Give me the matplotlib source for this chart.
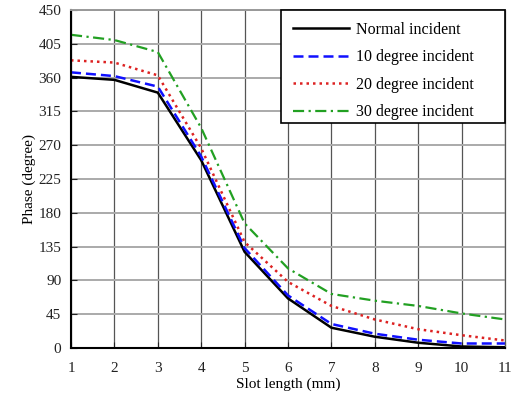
import matplotlib
matplotlib.use("Agg")
import matplotlib.pyplot as plt
from matplotlib.patches import Rectangle

slot_length = [1, 2, 3, 4, 5, 6, 7, 8, 9, 10, 11]
normal = [361, 357, 340, 250, 128, 66, 27, 15, 7, 2, 1]
deg10 = [367, 362, 348, 255, 133, 70, 32, 19, 11, 6, 6]
deg20 = [383, 380, 363, 266, 141, 88, 56, 38, 25, 17, 10]
deg30 = [417, 410, 394, 293, 166, 106, 72, 63, 56, 46, 38]
labels = ["Normal incident", "10 degree incident", "20 degree incident", "30 degree incident"]
yticks = [0, 45, 90, 135, 180, 225, 270, 315, 360, 405, 450]
xticks = [1, 2, 3, 4, 5, 6, 7, 8, 9, 10, 11]

plt.rcParams['font.family'] = ['Liberation Serif', 'DejaVu Serif']

fig = plt.figure(figsize=(5.11, 3.93), dpi=100)
ax = fig.add_axes([71/511, 45/393, 434/511, 338/393])

ax.plot(slot_length, normal, color='black', lw=1.8, ls='-', label=labels[0])
ax.plot(slot_length, deg10, color='#1010ff', lw=1.8, ls=(0, (4, 2)), label=labels[1])
ax.plot(slot_length, deg20, color='#dd2222', lw=1.8, ls=(0, (1, 1.6)), label=labels[2])
ax.plot(slot_length, deg30, color='#22a022', lw=1.6, ls=(0, (5, 2, 1, 2)), label=labels[3])

ax.set_xlim(1, 11)
ax.set_ylim(0, 450)
ax.set_xticks(xticks)
ax.set_yticks(yticks)
ax.tick_params(direction='in', length=4, labelsize=11, colors='#222222')
ax.tick_params(axis='y', pad=7)
ax.tick_params(axis='x', pad=10)
for x in xticks:
    ax.axvline(x, color='#555555', lw=0.9, zorder=0)
for y in yticks:
    ax.axhline(y, color='#aaaaaa', lw=1.4, zorder=0)

ax.spines['left'].set_linewidth(1.5)
ax.spines['bottom'].set_linewidth(1.5)
ax.spines['top'].set_color('#999999')
ax.spines['top'].set_linewidth(1.4)
ax.spines['right'].set_color('#555555')
ax.spines['right'].set_linewidth(0.9)

ax.set_xlabel("Slot length (mm)", fontsize=11, labelpad=2)
ax.set_ylabel("Phase (degree)", fontsize=11, labelpad=2)

# legend frame
frame = Rectangle((281/511, (393-122.7)/393), 224/511, 112.7/393,
                  transform=fig.transFigure, facecolor='white', edgecolor='black',
                  lw=1.2, zorder=5)
fig.add_artist(frame)

leg = fig.legend(*ax.get_legend_handles_labels(), loc='upper left',
                 bbox_to_anchor=(281/511, 383/393), fontsize=11.5,
                 handlelength=3.5, labelspacing=0.72, frameon=False,
                 borderpad=0.75, handletextpad=0.45, borderaxespad=0)
leg.set_zorder(6)

fig.savefig("out.png", dpi=100)
